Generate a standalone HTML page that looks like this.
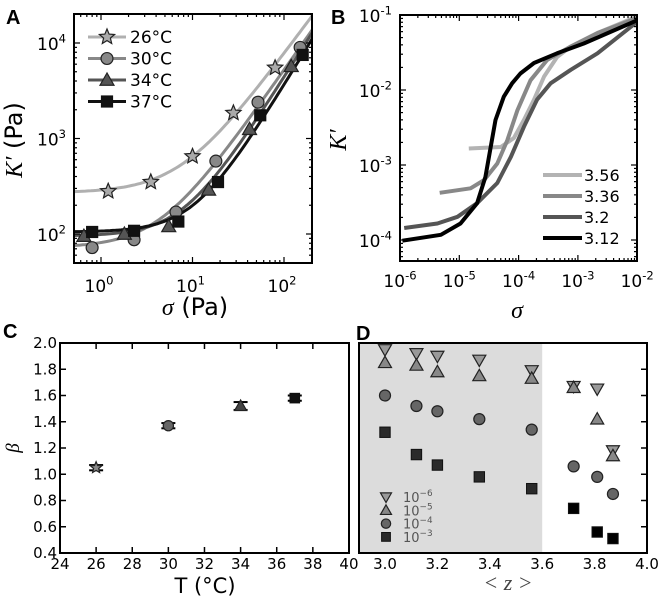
<!DOCTYPE html>
<html><head><meta charset="utf-8"><style>
html,body{margin:0;padding:0;background:#fff;}
svg{display:block;font-family:"DejaVu Sans","Liberation Sans",sans-serif;}
.ser{font-family:"Liberation Serif","DejaVu Serif",serif;font-style:italic;}
</style></head><body>
<svg id="fig" width="660" height="602" viewBox="0 0 660 602" xmlns="http://www.w3.org/2000/svg">
<text x="6" y="24" font-size="20" font-weight="bold" font-family="Liberation Sans">A</text>
<text x="331" y="24" font-size="20" font-weight="bold" font-family="Liberation Sans">B</text>
<text x="3" y="338" font-size="20" font-weight="bold" font-family="Liberation Sans">C</text>
<text x="356" y="340" font-size="20" font-weight="bold" font-family="Liberation Sans">D</text>
<g id="gA"></g><g id="gB"></g><g id="gC"></g><g id="gD"></g>
</svg>
<script>
// ---- Panel A data ----
var tempsA = ['26', '30', '34', '37'];
var sigA26 = [1.2, 3.5, 10, 28, 80];
var kA26 = [280, 350, 650, 1850, 5500];
var sigA30 = [0.8, 2.3, 6.6, 18, 52, 150];
var kA30 = [72, 87, 170, 580, 2400, 9000];
var sigA34 = [0.65, 1.8, 5.5, 15, 42, 120];
var kA34 = [95, 100, 120, 290, 1250, 5700];
var sigA37 = [0.8, 2.3, 7, 19, 55, 160];
var kA37 = [105, 108, 135, 350, 1750, 7500];
var fitK0 = [270, 72, 95, 105];
var fitA = [19, 9.4, 3.94, 2.47];
var fitBeta = [1.3, 1.37, 1.52, 1.58];
var xTicksA = ['0', '1', '2'];
var yTicksA = ['2', '3', '4'];
// ---- Panel B data ----
var zB = ['3.56', '3.36', '3.2', '3.12'];
var logSigB356 = [-4.84, -4.30, -4.08, -3.91, -3.74, -3.57, -3.35, -3.12, -2.67, -2.0];
var logKB356 = [-2.78, -2.76, -2.64, -2.40, -2.13, -1.82, -1.56, -1.42, -1.24, -1.02];
var logSigB336 = [-5.33, -4.81, -4.58, -4.36, -4.19, -4.02, -3.80, -3.52, -3.12, -2.67, -2.0];
var logKB336 = [-3.37, -3.31, -3.20, -2.98, -2.67, -2.27, -1.87, -1.60, -1.42, -1.24, -1.04];
var logSigB320 = [-5.93, -5.37, -5.03, -4.70, -4.36, -4.13, -3.91, -3.69, -3.46, -3.12, -2.67, -2.0];
var logKB320 = [-3.84, -3.78, -3.69, -3.51, -3.24, -2.89, -2.49, -2.13, -1.91, -1.73, -1.51, -1.09];
var logSigB312 = [-5.96, -5.31, -4.98, -4.70, -4.56, -4.47, -4.39, -4.25, -4.11, -3.97, -3.74, -3.35, -2.90, -2.0];
var logKB312 = [-4.01, -3.93, -3.78, -3.51, -3.16, -2.76, -2.40, -2.09, -1.91, -1.78, -1.64, -1.51, -1.38, -1.07];
var xTicksB = ['-6', '-5', '-4', '-3', '-2'];
var yTicksB = ['-4', '-3', '-2', '-1'];
// ---- Panel C data ----
var tempC = [26, 30, 34, 37];
var betaC = [1.05, 1.37, 1.52, 1.58];
var errC = [0.02, 0.02, 0.03, 0.02];
var xTicksC = ['24', '26', '28', '30', '32', '34', '36', '38', '40'];
var yTicksC = ['0.4', '0.6', '0.8', '1.0', '1.2', '1.4', '1.6', '1.8', '2.0'];
// ---- Panel D data ----
var zD = [3.0, 3.12, 3.2, 3.36, 3.56, 3.72, 3.81, 3.87];
var betaD6 = [1.95, 1.92, 1.90, 1.87, 1.79, 1.67, 1.65, 1.18];
var betaD5 = [1.85, 1.83, 1.78, 1.75, 1.73, 1.66, 1.42, 1.14];
var betaD4 = [1.60, 1.52, 1.48, 1.42, 1.34, 1.06, 0.98, 0.85];
var betaD3 = [1.32, 1.15, 1.07, 0.98, 0.89, 0.74, 0.56, 0.51];
var xTicksD = ['3.0', '3.2', '3.4', '3.6', '3.8', '4.0'];
var legendD = ['-6', '-5', '-4', '-3'];

var NS = 'http://www.w3.org/2000/svg';
function mk(parent, tag, attrs) {
  var e = document.createElementNS(NS, tag);
  for (var k in attrs) e.setAttribute(k, attrs[k]);
  parent.appendChild(e);
  return e;
}
function lg(v) { return Math.log10(v); }

function marker(g, type, x, y, s, fill) {
  var e;
  if (type === 'star') {
    var pts = [];
    for (var i = 0; i < 10; i++) {
      var r = i % 2 ? s * 0.45 : s;
      var a = -Math.PI / 2 + i * Math.PI / 5;
      pts.push((x + r * Math.cos(a)).toFixed(1) + ',' + (y + r * Math.sin(a)).toFixed(1));
    }
    e = mk(g, 'polygon', {points: pts.join(' '), fill: fill, stroke: '#222', 'stroke-width': 1.2});
  } else if (type === 'circle') {
    e = mk(g, 'circle', {cx: x, cy: y, r: s * 0.85, fill: fill, stroke: '#222', 'stroke-width': 1.2});
  } else if (type === 'tri') {
    e = mk(g, 'polygon', {points: x + ',' + (y - s) + ' ' + (x - s) + ',' + (y + s * 0.75) + ' ' + (x + s) + ',' + (y + s * 0.75), fill: fill, stroke: '#222', 'stroke-width': 1.2});
  } else if (type === 'dtri') {
    e = mk(g, 'polygon', {points: x + ',' + (y + s) + ' ' + (x - s) + ',' + (y - s * 0.75) + ' ' + (x + s) + ',' + (y - s * 0.75), fill: fill, stroke: '#222', 'stroke-width': 1.2});
  } else {
    e = mk(g, 'rect', {x: x - s * 0.8, y: y - s * 0.8, width: s * 1.6, height: s * 1.6, fill: fill, stroke: '#111', 'stroke-width': 1});
  }
  return e;
}

function logTicks(g, X0, X1, Y0, Y1, xdecs, ydecs, sx, sy) {
  for (var d = xdecs[0]; d <= xdecs[1]; d++) {
    for (var m = 1; m < 10; m++) {
      var v = d + Math.log10(m);
      var px = sx(v);
      if (px < X0 - 0.5 || px > X1 + 0.5) continue;
      var L = m === 1 ? 6 : 3;
      mk(g, 'line', {x1: px, y1: Y1, x2: px, y2: Y1 - L, stroke: '#000', 'stroke-width': 1.2});
      mk(g, 'line', {x1: px, y1: Y0, x2: px, y2: Y0 + L, stroke: '#000', 'stroke-width': 1.2});
    }
  }
  for (var d2 = ydecs[0]; d2 <= ydecs[1]; d2++) {
    for (var m2 = 1; m2 < 10; m2++) {
      var v2 = d2 + Math.log10(m2);
      var py = sy(v2);
      if (py < Y0 - 0.5 || py > Y1 + 0.5) continue;
      var L2 = m2 === 1 ? 6 : 3;
      mk(g, 'line', {x1: X0, y1: py, x2: X0 + L2, y2: py, stroke: '#000', 'stroke-width': 1.2});
      mk(g, 'line', {x1: X1, y1: py, x2: X1 - L2, y2: py, stroke: '#000', 'stroke-width': 1.2});
    }
  }
}
function powLabel(g, x, y, exp, anchor, size, name) {
  var t = mk(g, 'text', {x: x, y: y, 'font-size': size, 'text-anchor': anchor, fill: '#000'});
  
  
  var a = mk(t, 'tspan', {});
  a.textContent = '10';
  var b = mk(t, 'tspan', {dy: -size * 0.45, 'font-size': size * 0.68});
  b.textContent = exp;
  return t;
}

// ===================== Panel A =====================
(function () {
  var g = document.getElementById('gA');
  var X0 = 74, X1 = 312, Y0 = 14, Y1 = 263;
  var sx = function (l) { return 101 + (l - 0) * 91.5; };
  var sy = function (l) { return 234 - (l - 2) * 95.5; };
  var clip = mk(g, 'clipPath', {id: 'clipA'});
  mk(clip, 'rect', {x: X0, y: Y0, width: X1 - X0, height: Y1 - Y0});
  var lineCols = ['#b0b0b0', '#888', '#555', '#111'];
  var markCols = ['#aaa', '#888', '#555', '#111'];
  var types = ['star', 'circle', 'tri', 'square'];
  var sigs = [sigA26, sigA30, sigA34, sigA37];
  var ks = [kA26, kA30, kA34, kA37];
  var cg = mk(g, 'g', {'clip-path': 'url(#clipA)'});
  for (var i = 0; i < 4; i++) {
    var pts = [];
    for (var l = -0.35; l <= 2.35; l += 0.03) {
      var s = Math.pow(10, l);
      var k = fitK0[i] + fitA[i] * Math.pow(s, fitBeta[i]);
      pts.push(sx(l).toFixed(1) + ',' + sy(lg(k)).toFixed(1));
    }
    var pl = mk(cg, 'polyline', {points: pts.join(' '), fill: 'none', stroke: lineCols[i], 'stroke-width': 3});
    
    
  }
  for (var j = 0; j < 4; j++) {
    for (var p = 0; p < sigs[j].length; p++) {
      var m = marker(cg, types[j], sx(lg(sigs[j][p])), sy(lg(ks[j][p])), types[j] === 'star' ? 8 : 7, markCols[j]);
      
      
    }
  }
  var fr = mk(g, 'rect', {x: X0, y: Y0, width: X1 - X0, height: Y1 - Y0, fill: 'none', stroke: '#000', 'stroke-width': 2});
  
  
  logTicks(g, X0, X1, Y0, Y1, [-1, 2], [1, 4], sx, sy);
  xTicksA.forEach(function (e) {
    powLabel(g, sx(+e) - 2, 292, e, 'middle', 17, 'x-tick-label-a');
  });
  yTicksA.forEach(function (e) {
    powLabel(g, 66, sy(+e) + 7, e, 'end', 17, 'y-tick-label-a');
  });
  for (var q = 0; q < 4; q++) {
    var ly = 37 + q * 21.5;
    var ll = mk(g, 'line', {x1: 88, y1: ly, x2: 126, y2: ly, stroke: lineCols[q], 'stroke-width': 3});
    
    
    var lm = marker(g, types[q], 107, ly, types[q] === 'star' ? 8 : 7, markCols[q]);
    
    
    var lt = mk(g, 'text', {x: 130, y: ly + 6, 'font-size': 17});
    
    
    lt.textContent = tempsA[q] + '\u00b0C';
  }
  var xt = mk(g, 'text', {x: 195, y: 315, 'font-size': 24, 'text-anchor': 'middle'});
  
  
  var xs1 = mk(xt, 'tspan', {'font-family': 'Liberation Serif', 'font-style': 'italic'}); xs1.textContent = '\u03c3';
  var xs2 = mk(xt, 'tspan', {}); xs2.textContent = ' (Pa)';
  var yt = mk(g, 'text', {x: 0, y: 0, 'font-size': 24, 'text-anchor': 'middle', transform: 'translate(22,140) rotate(-90)'});
  
  
  var ys1 = mk(yt, 'tspan', {'font-family': 'Liberation Serif', 'font-style': 'italic'}); ys1.textContent = 'K\u2032';
  var ys2 = mk(yt, 'tspan', {}); ys2.textContent = ' (Pa)';
})();

// ===================== Panel B =====================
(function () {
  var g = document.getElementById('gB');
  var X0 = 400, X1 = 637, Y0 = 15, Y1 = 261;
  var sx = function (l) { return 400 + (l + 6) * 59.3; };
  var sy = function (l) { return 15 - (l + 1) * 75; };
  var cols = ['#b3b3b3', '#888', '#555', '#000'];
  var xs = [logSigB356, logSigB336, logSigB320, logSigB312];
  var ys = [logKB356, logKB336, logKB320, logKB312];
  var clip = mk(g, 'clipPath', {id: 'clipB'});
  mk(clip, 'rect', {x: X0, y: Y0, width: X1 - X0, height: Y1 - Y0});
  var cg = mk(g, 'g', {'clip-path': 'url(#clipB)'});
  for (var i = 0; i < 4; i++) {
    var pts = [];
    for (var p = 0; p < xs[i].length; p++) pts.push(sx(xs[i][p]).toFixed(1) + ',' + sy(ys[i][p]).toFixed(1));
    var pl = mk(cg, 'polyline', {points: pts.join(' '), fill: 'none', stroke: cols[i], 'stroke-width': 4, 'stroke-linejoin': 'round'});
    
    
  }
  var fr = mk(g, 'rect', {x: X0, y: Y0, width: X1 - X0, height: Y1 - Y0, fill: 'none', stroke: '#000', 'stroke-width': 2});
  
  
  logTicks(g, X0, X1, Y0, Y1, [-6, -2], [-5, -1], sx, sy);
  xTicksB.forEach(function (e) {
    powLabel(g, sx(+e), 287, e, 'middle', 17, 'x-tick-label-b');
  });
  yTicksB.forEach(function (e) {
    powLabel(g, 392, sy(+e) + 7, e, 'end', 17, 'y-tick-label-b');
  });
  for (var q = 0; q < 4; q++) {
    var ly = 175 + q * 21;
    var ll = mk(g, 'line', {x1: 543, y1: ly, x2: 582, y2: ly, stroke: cols[q], 'stroke-width': 4});
    
    
    var lt = mk(g, 'text', {x: 584, y: ly + 6, 'font-size': 16});
    
    
    lt.textContent = zB[q];
  }
  var xt = mk(g, 'text', {x: 517, y: 318, 'font-size': 24, 'text-anchor': 'middle', 'class': 'ser'});
  
  
  xt.textContent = '\u03c3';
  var yt = mk(g, 'text', {x: 0, y: 0, 'font-size': 24, 'text-anchor': 'middle', 'class': 'ser', transform: 'translate(346,140) rotate(-90)'});
  
  
  yt.textContent = 'K\u2032';
})();

// ===================== Panel C =====================
(function () {
  var g = document.getElementById('gC');
  var X0 = 60, X1 = 349, Y0 = 343, Y1 = 553;
  var sx = function (v) { return 60 + (v - 24) * 18.06; };
  var sy = function (v) { return 553 - (v - 0.4) * 131.25; };
  var types = ['star', 'circle', 'tri', 'square'];
  var fills = ['#888', '#666', '#444', '#111'];
  for (var i = 0; i < tempC.length; i++) {
    var x = sx(tempC[i]), y = sy(betaC[i]);
    var e1 = sy(betaC[i] + errC[i]), e2 = sy(betaC[i] - errC[i]);
    mk(g, 'line', {x1: x, y1: e1, x2: x, y2: e2, stroke: '#000', 'stroke-width': 1.5});
    mk(g, 'line', {x1: x - 7, y1: e1, x2: x + 7, y2: e1, stroke: '#000', 'stroke-width': 2});
    mk(g, 'line', {x1: x - 7, y1: e2, x2: x + 7, y2: e2, stroke: '#000', 'stroke-width': 2});
    var m = marker(g, types[i], x, y, 6, fills[i]);
    
    
  }
  var fr = mk(g, 'rect', {x: X0, y: Y0, width: X1 - X0, height: Y1 - Y0, fill: 'none', stroke: '#000', 'stroke-width': 2});
  
  
  xTicksC.forEach(function (t) {
    var x = sx(+t);
    mk(g, 'line', {x1: x, y1: Y1, x2: x, y2: Y1 - 6, stroke: '#000', 'stroke-width': 1.5});
    mk(g, 'line', {x1: x, y1: Y0, x2: x, y2: Y0 + 6, stroke: '#000', 'stroke-width': 1.5});
    var tx = mk(g, 'text', {x: x, y: 569, 'font-size': 15, 'text-anchor': 'middle'});
    
    
    tx.textContent = t;
  });
  yTicksC.forEach(function (t) {
    var y = sy(+t);
    mk(g, 'line', {x1: X0, y1: y, x2: X0 + 6, y2: y, stroke: '#000', 'stroke-width': 1.5});
    var ty = mk(g, 'text', {x: 57, y: y + 5, 'font-size': 15, 'text-anchor': 'end'});
    
    
    ty.textContent = t;
  });
  var xt = mk(g, 'text', {x: 205, y: 593, 'font-size': 21, 'text-anchor': 'middle'});
  
  
  xt.textContent = 'T (\u00b0C)';
  var yt = mk(g, 'text', {x: 0, y: 0, 'font-size': 19, 'text-anchor': 'middle', 'class': 'ser', transform: 'translate(19,448) rotate(-90)'});
  
  
  yt.textContent = '\u03b2';
})();

// ===================== Panel D =====================
(function () {
  var g = document.getElementById('gD');
  var X0 = 359, X1 = 647, Y0 = 343, Y1 = 553;
  var sx = function (v) { return 385 + (v - 3.0) * 262; };
  var sy = function (v) { return 553 - (v - 0.4) * 131.25; };
  var sh = mk(g, 'rect', {x: X0, y: Y0, width: sx(3.6) - X0, height: Y1 - Y0, fill: '#dcdcdc'});
  
  
  var series = [betaD6, betaD5, betaD4, betaD3];
  var types = ['dtri', 'tri', 'circle', 'square'];
  var fills = ['#999', '#888', '#666', '#2a2a2a'];
  for (var s = 0; s < 4; s++) {
    for (var i = 0; i < zD.length; i++) {
      var f = (s === 3 && zD[i] > 3.6) ? '#000' : fills[s];
      var m = marker(g, types[s], sx(zD[i]), sy(series[s][i]), 6.5, f);
      
      
    }
  }
  var fr = mk(g, 'rect', {x: X0, y: Y0, width: X1 - X0, height: Y1 - Y0, fill: 'none', stroke: '#000', 'stroke-width': 2});
  
  
  yTicksC.forEach(function (t) {
    var y = sy(+t);
    mk(g, 'line', {x1: X1, y1: y, x2: X1 - 6, y2: y, stroke: '#000', 'stroke-width': 1.5});
  });
  xTicksD.forEach(function (t) {
    var x = sx(+t);
    var tx = mk(g, 'text', {x: x, y: 569, 'font-size': 15, 'text-anchor': 'middle'});
    
    
    tx.textContent = t;
  });
  for (var q = 0; q < 4; q++) {
    var ly = 497 + q * 13.3;
    var lm = marker(g, types[q], 386, ly, 5.5, fills[q]);
    
    
    var lt = powLabel(g, 403, ly + 5, '\u2212' + legendD[q].slice(1), 'start', 13, 'legend-label-d');
    lt.setAttribute('fill', '#555');
  }
  var xt = mk(g, 'text', {x: 508, y: 590, 'font-size': 22, 'text-anchor': 'middle', 'class': 'ser', fill: '#444'});
  
  
  xt.textContent = '< z >';
})();
</script>
</body></html>
